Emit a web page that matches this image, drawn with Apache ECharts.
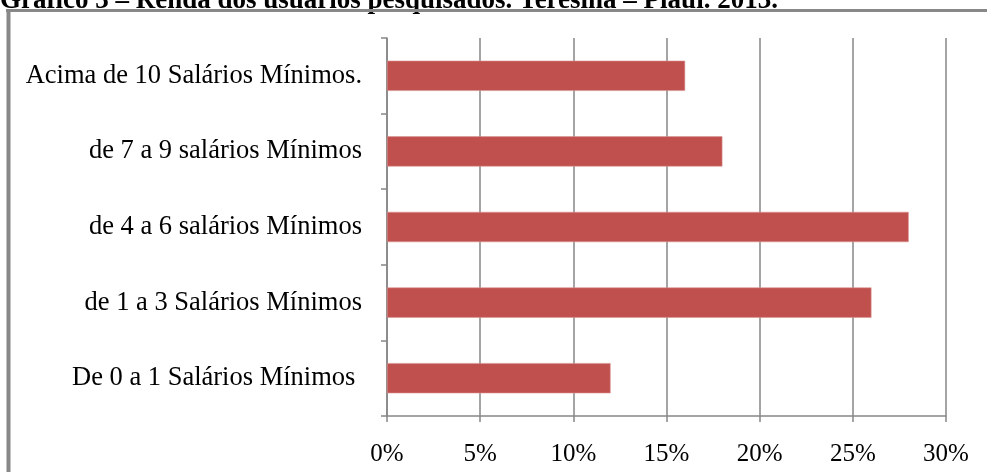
<!DOCTYPE html>
<html>
<head>
<meta charset="utf-8">
<style>
  html, body { margin: 0; padding: 0; background: #ffffff; }
  #chart { width: 987px; height: 472px; }
</style>
<script src="https://cdn.jsdelivr.net/npm/echarts@6/dist/echarts.min.js"></script>
</head>
<body>
<div id="chart"></div>
<script>
// Income bands of the surveyed users (bottom to top on the axis)
const categories = [
  'De 0 a 1 Salários Mínimos ',
  'de 1 a 3 Salários Mínimos',
  'de 4 a 6 salários Mínimos',
  'de 7 a 9 salários Mínimos',
  'Acima de 10 Salários Mínimos.'
];
// Share of respondents, in percent
const shares = [12, 26, 28, 18, 16];
// Value axis range
const axisMin = 0;
const axisMax = 30;
const axisStep = 5;

const titleText = 'Gráfico 3 – Renda dos usuários pesquisados. Teresina – Piauí. 2013.';

const serif = '"Liberation Serif", "Times New Roman", "DejaVu Serif", serif';
const axisGray = '#868686';
const barRed = '#C0504D';

const chart = echarts.init(document.getElementById('chart'), null, { renderer: 'canvas' });

chart.setOption({
  backgroundColor: '#ffffff',
  animation: false,
  grid: { left: 387, top: 38, right: 41, bottom: 56, containLabel: false },
  graphic: [
    {
      type: 'text',
      left: 0,
      top: -12,
      style: {
        text: titleText,
        font: 'bold 27px ' + serif,
        fill: '#000000'
      }
    },
    {
      type: 'line',
      shape: { x1: 6, y1: 10.5, x2: 987, y2: 10.5 },
      style: { stroke: '#888888', lineWidth: 3 }
    },
    {
      type: 'line',
      shape: { x1: 8.5, y1: 9, x2: 8.5, y2: 472 },
      style: { stroke: '#888888', lineWidth: 4 }
    }
  ],
  xAxis: {
    type: 'value',
    min: axisMin,
    max: axisMax,
    interval: axisStep,
    axisLine: { show: true, lineStyle: { color: axisGray, width: 1.5 } },
    axisTick: { show: true, length: 6, lineStyle: { color: axisGray, width: 1.5 } },
    splitLine: { show: true, lineStyle: { color: axisGray, width: 1.5 } },
    axisLabel: {
      formatter: '{value}%',
      color: '#000000',
      fontFamily: serif,
      fontSize: 25,
      margin: 26
    }
  },
  yAxis: {
    type: 'category',
    data: categories,
    axisLine: { show: true, lineStyle: { color: axisGray, width: 1.5 } },
    axisTick: { show: true, length: 6, inside: false, lineStyle: { color: axisGray, width: 1.5 } },
    axisLabel: {
      color: '#000000',
      fontFamily: serif,
      fontSize: 26.5,
      margin: 25
    }
  },
  series: [
    {
      type: 'bar',
      data: shares,
      barCategoryGap: '60%',
      itemStyle: { color: barRed, borderColor: '#D99694', borderWidth: 0.6 }
    }
  ]
});
</script>
</body>
</html>
